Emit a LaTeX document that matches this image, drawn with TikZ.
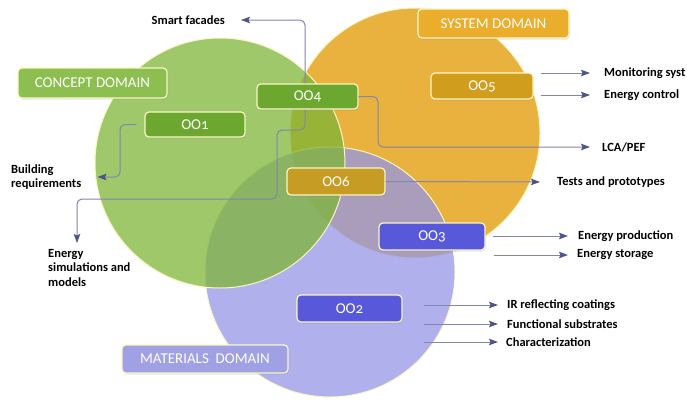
\documentclass[tikz,border=0pt]{standalone}
\usepackage{fontspec}
\setmainfont{Carlito}
\usetikzlibrary{arrows.meta,calc,shadows}
\definecolor{cOrange}{RGB}{233,178,62}
\definecolor{cPurple}{RGB}{150,150,230}
\definecolor{cGreen}{RGB}{125,182,55}
\definecolor{cEdge}{RGB}{250,246,195}
\definecolor{cConn}{RGB}{128,134,172}
\definecolor{cTip}{RGB}{78,84,135}
\definecolor{bConcept}{RGB}{140,190,80}
\definecolor{bOOgreen}{RGB}{108,168,48}
\definecolor{bSystem}{RGB}{234,174,44}
\definecolor{bOOgold}{RGB}{208,158,28}
\definecolor{bOO6}{RGB}{198,156,36}
\definecolor{bOOblue}{RGB}{88,88,218}
\definecolor{bMaterials}{RGB}{160,160,228}
\begin{document}
\begin{tikzpicture}[x=1pt,y=-1pt,
  domcircle/.style={draw=cEdge, line width=1pt},
  box/.style={draw=cEdge, line width=1.2pt, rounded corners=4pt, text=white,
    inner sep=0pt, drop shadow={opacity=0.2, shadow xshift=1pt, shadow yshift=-1.5pt}},
  dombox/.style={box, font=\fontsize{15}{17}\selectfont},
  oobox/.style={box, font=\fontsize{15}{17}\selectfont\addfontfeature{Numbers=OldStyle}},
  lbl/.style={font=\fontsize{12.5}{14.5}\selectfont\bfseries, text=black, inner sep=0pt},
  conn/.style={draw=cConn, line width=1pt, rounded corners=5pt,
    -{Stealth[length=9pt,width=6.5pt,inset=1.5pt,color=cTip]}}
]
\useasboundingbox (0,0) rectangle (687,399);
% domain circles
\fill[cOrange] (415,133) circle (125pt);
\draw[domcircle] (415,133) circle (125pt);
\fill[cPurple, opacity=0.75] (330,272) circle (125pt);
\draw[domcircle] (330,272) circle (125pt);
\fill[cGreen, opacity=0.75] (220,163) circle (125pt);
\draw[domcircle] (220,163) circle (125pt);

% boxes
\node[dombox, fill=bConcept, minimum width=149pt, minimum height=30pt] (concept) at (92.5,83) {CONCEPT DOMAIN};
\node[dombox, fill=bSystem, minimum width=151pt, minimum height=29pt] (system) at (493.5,23.5) {SYSTEM DOMAIN};
\node[dombox, fill=bMaterials, minimum width=166pt, minimum height=28pt] (materials) at (205,359) {MATERIALS\ \ DOMAIN};
\node[oobox, fill=bOOgreen, minimum width=100pt, minimum height=25pt] (oo1) at (195,124.5) {OO1};
\node[oobox, fill=bOOgreen, minimum width=101pt, minimum height=25pt] (oo4) at (307.5,96.5) {OO4};
\node[oobox, fill=bOOgold, minimum width=102pt, minimum height=26pt] (oo5) at (482,86) {OO5};
\node[oobox, fill=bOO6, minimum width=98pt, minimum height=27pt] (oo6) at (336,181.5) {OO6};
\node[oobox, fill=bOOblue, minimum width=106pt, minimum height=27pt] (oo3) at (432,236.5) {OO3};
\node[oobox, fill=bOOblue, minimum width=105pt, minimum height=27pt] (oo2) at (349.5,308.5) {OO2};

% labels
\node[lbl, anchor=east] (smart) at (225,20) {Smart facades};
\node[lbl, anchor=west, align=left] (build) at (11,177) {Building\\requirements};
\node[lbl, anchor=north west, align=left] (esim) at (48,249) {Energy\\simulations and\\models};
\node[lbl, anchor=west] (mon) at (604,73) {Monitoring syst};
\node[lbl, anchor=west] (ectrl) at (604,95) {Energy control};
\node[lbl, anchor=west] (lca) at (602,147) {LCA/PEF};
\node[lbl, anchor=west] (tests) at (557,182) {Tests and prototypes};
\node[lbl, anchor=west] (eprod) at (578,236) {Energy production};
\node[lbl, anchor=west] (estor) at (577,255) {Energy storage};
\node[lbl, anchor=west] (ir) at (507,305) {IR reflecting coatings};
\node[lbl, anchor=west] (func) at (507,324) {Functional substrates};
\node[lbl, anchor=west] (char) at (506,342) {Characterization};

\coordinate (esimtip) at (77,243);

% connectors
\draw[conn, shorten >=16pt] ([xshift=-2.5pt]oo4.north) |- (smart.east);
\draw[conn] ([xshift=-2.5pt]oo4.south) |- (277,130) |- (77,199) -- (esimtip);
\draw[conn, shorten >=16pt] ($(oo1.west)+(-8,0)$) -- (120,124.5) |- (build.east);
\draw[conn, shorten >=12pt] (oo4.east) -- (378,96.5) |- (lca.west);
\draw[conn, shorten >=17pt] (oo6.east) -- (tests.west);
\draw[conn, shorten >=14pt] ($(oo5.east |- mon.west)+(7,0)$) -- (mon.west);
\draw[conn, shorten >=14pt] ($(oo5.east |- ectrl.west)+(7,0)$) -- (ectrl.west);
\draw[conn, shorten >=10pt] ($(oo3.east |- eprod.west)+(7,0)$) -- (eprod.west);
\draw[conn, shorten >=9pt] ($(oo3.east |- estor.west)+(8,0)$) -- (estor.west);
\draw[conn, shorten >=9pt] ($(oo2.east |- ir.west)+(21,0)$) -- (ir.west);
\draw[conn, shorten >=9pt] ($(oo2.east |- func.west)+(21,0)$) -- (func.west);
\draw[conn, shorten >=8pt] ($(oo2.east |- char.west)+(21,0)$) -- (char.west);
\end{tikzpicture}
\end{document}
